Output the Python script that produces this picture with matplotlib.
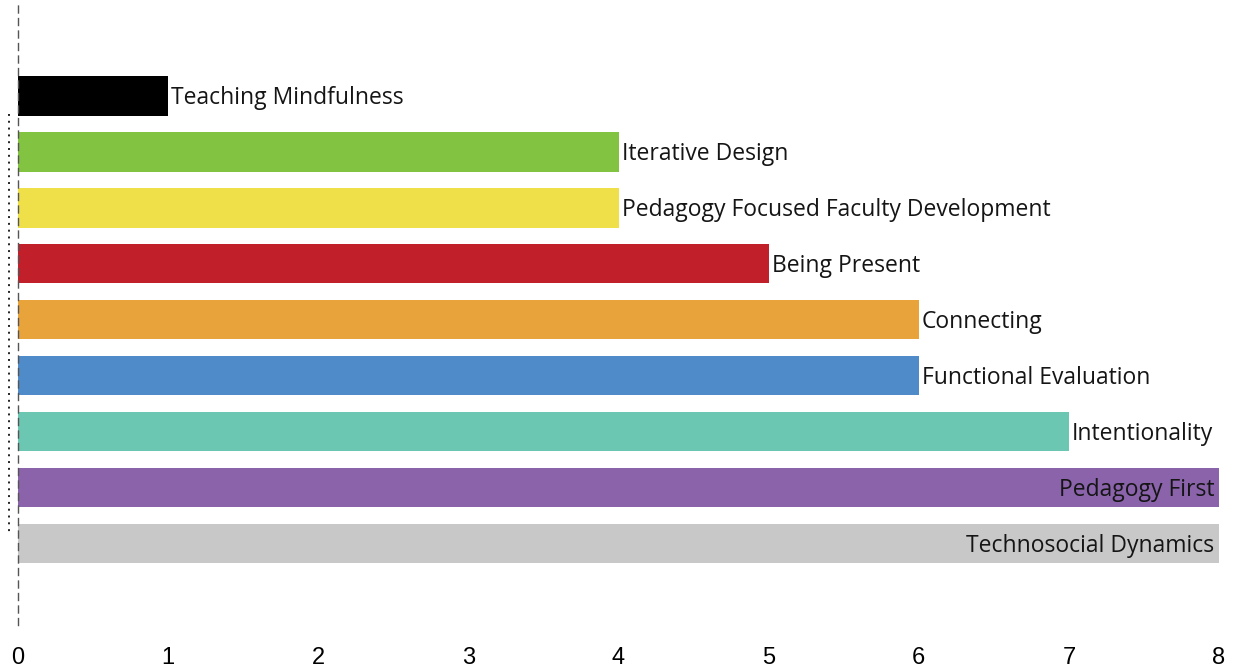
import matplotlib
matplotlib.use("Agg")
import matplotlib.pyplot as plt

categories = [
    "Teaching Mindfulness",
    "Iterative Design",
    "Pedagogy Focused Faculty Development",
    "Being Present",
    "Connecting",
    "Functional Evaluation",
    "Intentionality",
    "Pedagogy First",
    "Technosocial Dynamics",
]
values = [1, 4, 4, 5, 6, 6, 7, 8, 8]
colors = ["#000000", "#82c341", "#efdf48", "#c1202b", "#e9a33b",
          "#4f8ac9", "#6cc7b2", "#8a63ab", "#c8c8c8"]
xticks = [0, 1, 2, 3, 4, 5, 6, 7, 8]

fig = plt.figure(figsize=(12.35, 6.69), dpi=100)
ax = fig.add_axes([18 / 1235, 39 / 669, 1201 / 1235, 630 / 669])

ypos = list(range(len(categories)))
ax.barh(ypos, values, height=0.7, color=colors)

xmax = max(xticks)
for y, v, name in zip(ypos, values, categories):
    if v >= xmax:
        ax.text(v - 0.03, y + 0.04, name, ha="right", va="center",
                fontsize=16.5, family="Open Sans", color="#151515")
    else:
        ax.text(v + 0.02, y + 0.04, name, ha="left", va="center",
                fontsize=16.5, family="Open Sans", color="#151515")

ax.set_xlim(0, xmax)
ax.set_ylim(9.54, -1.714)

for side in ["top", "right", "bottom"]:
    ax.spines[side].set_visible(False)
ax.spines["left"].set_linestyle((0, (5, 4)))
ax.spines["left"].set_color("#555555")
ax.spines["left"].set_linewidth(1.0)
ax.spines["left"].set_bounds(9.45, -1.65)

# dotted bracket left of the axis
ax.plot([-0.06, -0.06], [0.32, 7.8], linestyle=(0, (1, 2.5)),
        color="#222222", linewidth=1.4, clip_on=False)

ax.set_yticks([])
ax.set_xticks(xticks)
ax.set_xticklabels([str(t) for t in xticks], family="Liberation Sans", fontsize=17)
ax.tick_params(axis="x", length=0, pad=12)

fig.savefig("out.png", dpi=100)
